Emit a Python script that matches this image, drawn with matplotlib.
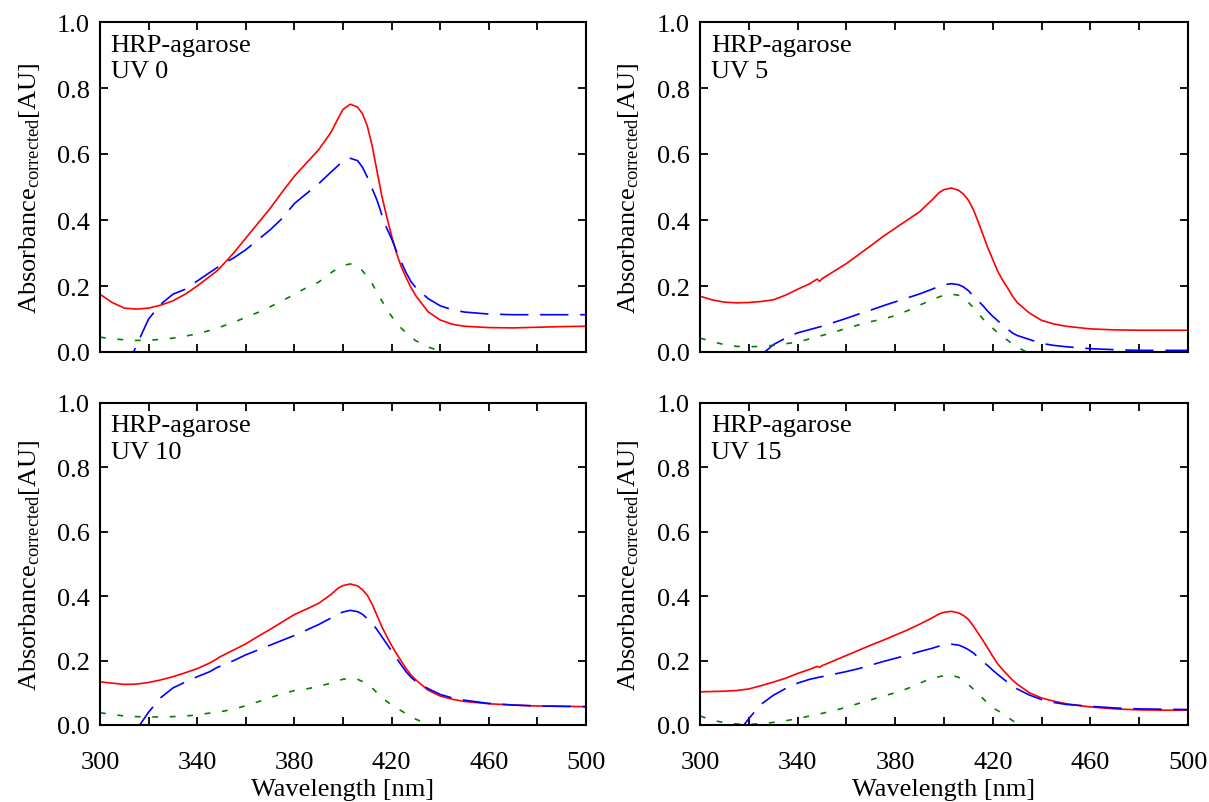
import numpy as np
import matplotlib
matplotlib.use('Agg')
import matplotlib.pyplot as plt

plt.rcParams['font.family'] = ['Liberation Serif', 'DejaVu Serif']
plt.rcParams['mathtext.fontset'] = 'custom'
plt.rcParams['mathtext.rm'] = 'Liberation Serif'
plt.rcParams['mathtext.it'] = 'Liberation Serif:italic'

nan = np.nan

# wavelength grid (nm) shared by all series
wavelength = [300, 305, 310, 315, 320, 325, 330, 335, 340, 345, 348, 349, 350,
              355, 360, 365, 370, 375, 380, 385, 390, 395,
              398, 400, 403, 406, 408,
              410, 412, 414, 416, 418, 420, 422, 424, 426, 428, 430,
              435, 440, 445, 450, 460, 470, 480, 490, 500]

# UV 0
uv0_red = [0.175, 0.150, 0.133, 0.130, 0.133, 0.142, 0.155, 0.175, 0.200, 0.228, 0.245, 0.252, 0.260,
           0.300, 0.345, 0.390, 0.435, 0.485, 0.533, 0.573, 0.613, 0.665,
           0.708, 0.735, 0.751, 0.742, 0.722,
           0.685, 0.625, 0.548, 0.472, 0.410, 0.352, 0.300, 0.258, 0.225, 0.195, 0.170,
           0.122, 0.097, 0.084, 0.078, 0.074, 0.073, 0.075, 0.077, 0.078]
uv0_blue = [nan, nan, -0.067, 0.020, 0.100, 0.145, 0.175, 0.190, 0.215, 0.240, 0.255, 0.260, 0.265,
            0.285, 0.310, 0.340, 0.370, 0.405, 0.450, 0.480, 0.510, 0.545,
            0.565, 0.580, 0.587, 0.580, 0.560,
            0.530, 0.495, 0.460, 0.415, 0.375, 0.343, 0.305, 0.272, 0.240, 0.213, 0.195,
            0.162, 0.140, 0.128, 0.121, 0.115, 0.113, 0.113, 0.113, 0.113]
uv0_green = [0.045, 0.040, 0.037, 0.035, 0.036, 0.038, 0.042, 0.048, 0.055, 0.065, 0.072, 0.075, 0.077,
             0.090, 0.105, 0.120, 0.137, 0.155, 0.175, 0.195, 0.212, 0.240,
             0.254, 0.262, 0.267, 0.261, 0.246,
             0.228, 0.207, 0.180, 0.155, 0.130, 0.108, 0.090, 0.072, 0.058, 0.045, 0.034,
             0.015, 0.003, -0.010, nan, nan, nan, nan, nan, nan]

# UV 5
uv5_red = [0.169, 0.158, 0.151, 0.149, 0.150, 0.153, 0.158, 0.172, 0.190, 0.207, 0.221, 0.214, 0.222,
           0.245, 0.268, 0.295, 0.322, 0.350, 0.375, 0.400, 0.425, 0.460,
           0.483, 0.492, 0.497, 0.490, 0.478,
           0.460, 0.432, 0.395, 0.355, 0.315, 0.280, 0.245, 0.218, 0.195, 0.170, 0.150,
           0.118, 0.096, 0.085, 0.078, 0.070, 0.067, 0.066, 0.066, 0.066]
uv5_blue = [nan, nan, nan, nan, nan, -0.010, 0.022, 0.042, 0.058, 0.068, 0.074, 0.076, 0.078,
            0.090, 0.102, 0.115, 0.127, 0.140, 0.152, 0.164, 0.176, 0.190,
            0.199, 0.204, 0.207, 0.204, 0.197,
            0.186, 0.170, 0.155, 0.140, 0.123, 0.108, 0.095, 0.082, 0.070, 0.058, 0.050,
            0.038, 0.026, 0.020, 0.016, 0.010, 0.007, 0.005, 0.005, 0.005]
uv5_green = [0.042, 0.032, 0.022, 0.017, 0.016, 0.017, 0.020, 0.025, 0.030, 0.040, 0.046, 0.048, 0.050,
             0.060, 0.072, 0.082, 0.092, 0.100, 0.110, 0.125, 0.142, 0.158,
             0.167, 0.172, 0.175, 0.172, 0.163,
             0.150, 0.135, 0.118, 0.100, 0.086, 0.072, 0.058, 0.046, 0.036, 0.025, 0.015,
             -0.005, nan, nan, nan, nan, nan, nan, nan, nan]

# UV 10
uv10_red = [0.134, 0.130, 0.126, 0.127, 0.132, 0.140, 0.150, 0.162, 0.175, 0.192, 0.205, 0.210, 0.214,
            0.233, 0.252, 0.275, 0.297, 0.320, 0.343, 0.360, 0.378, 0.405,
            0.425, 0.433, 0.438, 0.432, 0.420,
            0.403, 0.375, 0.340, 0.305, 0.275, 0.247, 0.222, 0.198, 0.175, 0.155, 0.140,
            0.108, 0.090, 0.080, 0.073, 0.066, 0.062, 0.059, 0.058, 0.057]
uv10_blue = [nan, nan, nan, -0.015, 0.040, 0.085, 0.115, 0.133, 0.150, 0.165, 0.178, 0.181, 0.184,
             0.200, 0.218, 0.233, 0.248, 0.263, 0.278, 0.295, 0.312, 0.332,
             0.345, 0.351, 0.356, 0.352, 0.344,
             0.330, 0.316, 0.296, 0.274, 0.252, 0.230, 0.208, 0.186, 0.165, 0.148, 0.135,
             0.113, 0.095, 0.084, 0.077, 0.067, 0.062, 0.059, 0.058, 0.057]
uv10_green = [0.038, 0.033, 0.028, 0.026, 0.025, 0.025, 0.026, 0.028, 0.031, 0.037, 0.040, 0.041, 0.042,
              0.049, 0.060, 0.072, 0.085, 0.097, 0.107, 0.112, 0.120, 0.130,
              0.138, 0.142, 0.145, 0.142, 0.135,
              0.126, 0.115, 0.100, 0.087, 0.073, 0.063, 0.053, 0.044, 0.035, 0.026, 0.018,
              0.002, -0.015, nan, nan, nan, nan, nan, nan, nan]

# UV 15
uv15_red = [0.103, 0.104, 0.105, 0.107, 0.112, 0.122, 0.133, 0.145, 0.160, 0.173, 0.182, 0.179, 0.184,
            0.200, 0.216, 0.232, 0.248, 0.263, 0.279, 0.295, 0.313, 0.332,
            0.345, 0.350, 0.353, 0.348, 0.340,
            0.328, 0.308, 0.285, 0.262, 0.238, 0.213, 0.190, 0.172, 0.156, 0.140, 0.127,
            0.100, 0.084, 0.074, 0.066, 0.056, 0.050, 0.047, 0.046, 0.046]
uv15_blue = [nan, nan, nan, -0.030, 0.020, 0.064, 0.092, 0.113, 0.130, 0.142, 0.147, 0.149, 0.150,
             0.158, 0.166, 0.175, 0.186, 0.197, 0.207, 0.217, 0.228, 0.238,
             0.245, 0.249, 0.251, 0.248, 0.242,
             0.234, 0.224, 0.210, 0.196, 0.184, 0.170, 0.157, 0.145, 0.133, 0.122, 0.112,
             0.093, 0.079, 0.070, 0.064, 0.058, 0.053, 0.050, 0.049, 0.048]
uv15_green = [0.028, 0.015, 0.007, 0.003, 0.002, 0.004, 0.008, 0.013, 0.020, 0.028, 0.033, 0.035, 0.036,
              0.045, 0.055, 0.067, 0.078, 0.090, 0.100, 0.113, 0.130, 0.145,
              0.150, 0.153, 0.155, 0.148, 0.138,
              0.125, 0.112, 0.097, 0.082, 0.067, 0.053, 0.045, 0.035, 0.025, 0.014, 0.005,
              -0.020, nan, nan, nan, nan, nan, nan, nan, nan]

panel_labels = ['UV 0', 'UV 5', 'UV 10', 'UV 15']
panel_data = [(uv0_red, uv0_blue, uv0_green),
              (uv5_red, uv5_blue, uv5_green),
              (uv10_red, uv10_blue, uv10_green),
              (uv15_red, uv15_blue, uv15_green)]

fig = plt.figure(figsize=(12.09, 8.03), dpi=100)
W, H = 1209, 803
# axes boxes in pixels: left, top, right, bottom
boxes = [(100, 23, 586, 353), (700, 23, 1188, 353),
         (100, 404, 586, 726), (700, 404, 1188, 726)]

fs = 19
xt = list(range(300, 501, 20))
for i, (box, lab, (red, blue, green)) in enumerate(zip(boxes, panel_labels, panel_data)):
    l, t, r, b = box
    ax = fig.add_axes([l / W, 1 - b / H, (r - l) / W, (b - t) / H])
    ax.plot(wavelength, red, color='#ff0000', lw=1.2)
    ax.plot(wavelength, blue, color='#0000ff', lw=1.2, dashes=(17, 7))
    ax.plot(wavelength, green, color='#008000', lw=1.2, dashes=(3.5, 7))
    ax.set_xlim(300, 500)
    ax.set_ylim(0, 1.0)
    ax.set_xticks(xt)
    ax.set_xticklabels([str(v) if (v - 300) % 40 == 0 else '' for v in xt])
    ax.set_yticks(np.arange(0, 1.01, 0.2))
    ax.set_yticklabels(['%.1f' % v for v in np.arange(0, 1.01, 0.2)])
    ax.tick_params(direction='in', top=True, right=True, length=6, width=1.3,
                   labelsize=fs)
    ax.tick_params(axis='x', pad=19)
    ax.tick_params(axis='y', pad=7.5)
    for sp in ax.spines.values():
        sp.set_linewidth(1.5)
    if i < 2:
        ax.tick_params(labelbottom=False)
    else:
        ax.set_xlabel('Wavelength [nm]', fontsize=fs, labelpad=3)
    ax.set_ylabel(r'Absorbance$_{\mathrm{corrected}}$[AU]', fontsize=fs)
    ax.yaxis.set_label_coords(-0.12, 0.5)
    ax.text(0.022, 0.965, 'HRP-agarose\n' + lab, transform=ax.transAxes,
            fontsize=fs, va='top', ha='left', linespacing=1.25)

fig.savefig('out.png', dpi=100)
